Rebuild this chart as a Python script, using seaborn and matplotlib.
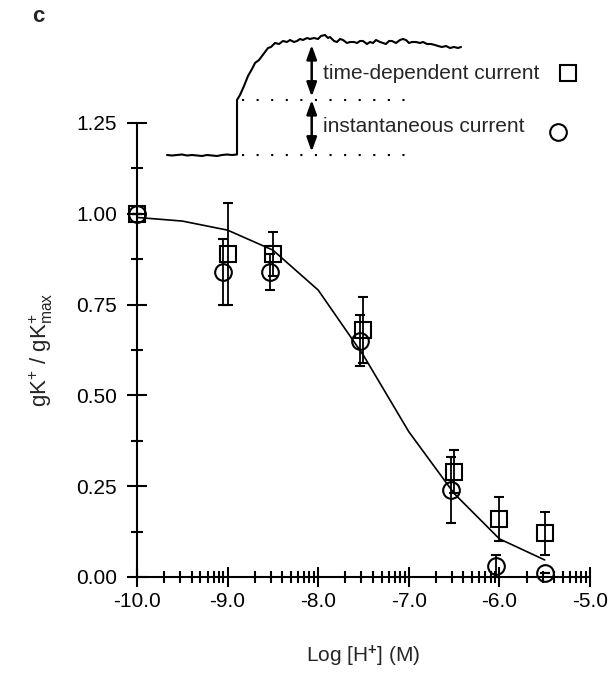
import matplotlib
matplotlib.use("Agg")
import matplotlib.pyplot as plt
import numpy as np
import seaborn as sns
from matplotlib.ticker import FixedLocator, FormatStrFormatter

# ----------------------------------------------------------
# Data
# ----------------------------------------------------------

# time-dependent current (squares)
td_x = [-10.0, -9.0, -8.5, -7.5, -6.5, -6.0, -5.5]
td_y = [1.00, 0.89, 0.89, 0.68, 0.29, 0.16, 0.12]
td_err = [0.0, 0.14, 0.06, 0.09, 0.06, 0.06, 0.06]

# instantaneous current (circles)
inst_x = [-10.0, -9.05, -8.53, -7.54, -6.53, -6.04, -5.5]
inst_y = [1.00, 0.84, 0.84, 0.65, 0.24, 0.03, 0.01]
inst_err = [0.0, 0.09, 0.05, 0.07, 0.09, 0.03, 0.0]

# fitted curve
fit_x = [-10.0, -9.5, -9.0, -8.5, -8.0, -7.5, -7.0, -6.5, -6.0, -5.5]
fit_y = [0.99, 0.98, 0.955, 0.90, 0.79, 0.61, 0.40, 0.23, 0.105, 0.047]

# example current trace (arbitrary units)
trace_t = [7, 12, 17, 22, 27, 32, 37, 42, 47, 52, 57, 62, 67, 72, 77, 77,
           80, 84, 88, 92, 95, 99, 102, 105, 108, 111, 115, 119, 123, 127,
           130, 134, 137, 140, 143, 147, 150, 154, 158, 161, 165, 168, 170,
           174, 177, 180, 183, 187, 190, 194, 197, 200, 203, 207, 210, 213,
           216, 220, 223, 226, 229, 232, 236, 240, 243, 246, 249, 252, 256,
           260, 263, 267, 271, 275, 278, 282, 286, 290, 294, 298, 301]
trace_i = [5, 4.5, 5, 5.5, 4.5, 5, 4.5, 4, 5, 4.5, 4, 5, 5.5, 5, 5.5, 60,
           65, 74, 84, 91, 97, 100, 104, 108, 112, 113, 117, 116, 119, 118,
           120, 118, 119, 121, 120, 122, 121, 122, 121, 124, 125, 122, 123,
           119, 118, 121, 120, 117, 118, 118, 117, 119, 119, 116, 118, 117,
           120, 118, 117, 116, 119, 119, 117, 120, 121, 120, 117, 118, 118,
           117, 118, 116, 116, 115, 114, 113, 114, 112, 113, 112, 113]

instant_level = 60
base_level = 5.5

# ----------------------------------------------------------
# Style
# ----------------------------------------------------------

sns.set_theme(style="ticks")
plt.rcParams["font.family"] = ["Liberation Sans", "DejaVu Sans"]
plt.rcParams["mathtext.fontset"] = "custom"
plt.rcParams["mathtext.rm"] = "Liberation Sans"
plt.rcParams["mathtext.it"] = "Liberation Sans:italic"
plt.rcParams["mathtext.bf"] = "Liberation Sans:bold"
plt.rcParams["axes.unicode_minus"] = False

FS = 15

fig = plt.figure(figsize=(6.11, 6.76), dpi=100)

ax = fig.add_axes([137 / 611, 99 / 676, 453 / 611, 454 / 676])

# ----------------------------------------------------------
# Main plot
# ----------------------------------------------------------

sns.lineplot(
    x=fit_x,
    y=fit_y,
    color="black",
    linewidth=1.2,
    estimator=None,
    sort=False,
    ax=ax,
)

ax.errorbar(
    td_x, td_y, yerr=td_err,
    fmt="s", ms=11, mfc="none", mec="black", mew=1.5,
    ecolor="black", elinewidth=1.3, capsize=3.5, capthick=1.3,
    clip_on=False, zorder=3,
)

ax.errorbar(
    inst_x, inst_y, yerr=inst_err,
    fmt="o", ms=12, mfc="none", mec="black", mew=1.5,
    ecolor="black", elinewidth=1.3, capsize=3.5, capthick=1.3,
    clip_on=False, zorder=3,
)

ax.set_xlim(-10, -5)
ax.set_ylim(0, 1.25)

sns.despine(ax=ax)
for side in ["left", "bottom"]:
    ax.spines[side].set_linewidth(1.5)
    ax.spines[side].set_color("black")

ax.xaxis.set_major_locator(FixedLocator(np.arange(-10, -4.5, 1.0)))
minor_x = [d + np.log10(k) for d in range(-10, -5) for k in range(2, 10)]
ax.xaxis.set_minor_locator(FixedLocator(minor_x))
ax.xaxis.set_major_formatter(FormatStrFormatter("%.1f"))

ax.yaxis.set_major_locator(FixedLocator(np.arange(0, 1.26, 0.25)))
ax.yaxis.set_minor_locator(FixedLocator(np.arange(0.125, 1.25, 0.25)))
ax.yaxis.set_major_formatter(FormatStrFormatter("%.2f"))

ax.tick_params(axis="both", which="major", direction="inout", length=14,
               width=1.5, color="black", labelsize=FS, labelcolor="black")
ax.tick_params(axis="both", which="minor", direction="inout", length=8.5,
               width=1.5, color="black")
ax.tick_params(axis="y", which="major", pad=7.5)
ax.tick_params(axis="x", which="major", pad=4)

ax.set_xlabel(r"Log [H$^{\mathbf{+}}$] (M)", fontsize=FS, labelpad=23)
ax.set_ylabel(r"gK$^{+}$ / gK$^{+}_{\mathrm{max}}$", fontsize=FS + 1,
              labelpad=15)
ax.grid(False)

# ----------------------------------------------------------
# Inset trace
# ----------------------------------------------------------

ins = fig.add_axes([160 / 611, (676 - 165) / 676, 440 / 611, 140 / 676])
ins.set_xlim(0, 440)
ins.set_ylim(-5, 135)
ins.axis("off")
ins.patch.set_alpha(0)

sns.lineplot(
    x=trace_t,
    y=trace_i,
    color="black",
    linewidth=1.5,
    estimator=None,
    sort=False,
    ax=ins,
)

for level in [instant_level, base_level]:
    ins.hlines(level, 82, 245, color="black", linewidth=1.5,
               linestyle=(0, (1, 6)))

arrow_x = 151.7
arrow_style = "<|-|>,head_length=0.7,head_width=0.25"
ins.annotate("", xy=(arrow_x, 63.3), xytext=(arrow_x, 115),
             arrowprops=dict(arrowstyle=arrow_style, color="black", lw=1.8,
                             mutation_scale=12, shrinkA=0, shrinkB=0))
ins.annotate("", xy=(arrow_x, 8.3), xytext=(arrow_x, 60),
             arrowprops=dict(arrowstyle=arrow_style, color="black", lw=1.8,
                             mutation_scale=12, shrinkA=0, shrinkB=0))

ins.text(163, 86.7, "time-dependent current", fontsize=FS,
         ha="left", va="center")
ins.text(163, 33.3, "instantaneous current", fontsize=FS,
         ha="left", va="center")
ins.plot([408], [86.7], marker="s", ms=11, mfc="none", mec="black",
         mew=1.5, clip_on=False)
ins.plot([397.7], [28.3], marker="o", ms=12, mfc="none", mec="black",
         mew=1.5, clip_on=False)

fig.text(38 / 611, 1 - 17 / 676, "c", fontsize=FS + 1, fontweight="bold",
         ha="center", va="center")

fig.savefig("out.png", dpi=100)
